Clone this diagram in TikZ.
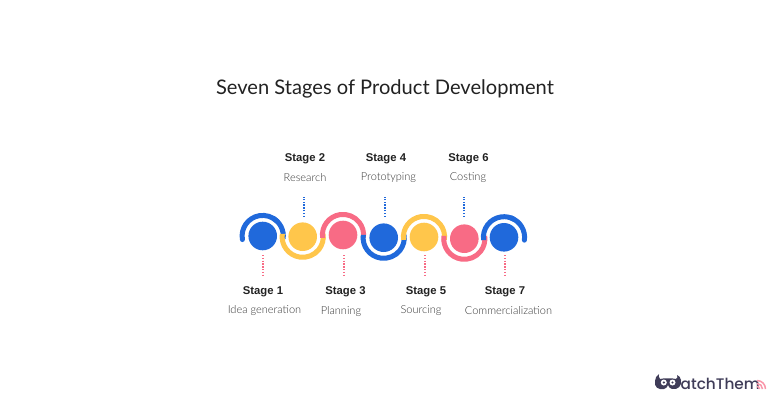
\documentclass[tikz,border=0pt]{standalone}
\usepackage{fontspec}
\setmainfont{Lato}
\newfontfamily\titlef{Lato}
\newfontfamily\boldf[Scale=1]{Liberation Sans Bold}
\newfontfamily\lightf{Lato Light}
\newfontfamily\logof{Poppins Medium}
\definecolor{bl}{HTML}{2069DB}
\definecolor{ye}{HTML}{FFC64B}
\definecolor{pk}{HTML}{F86B85}
\definecolor{ink}{HTML}{222222}
\definecolor{lg}{HTML}{3F3C58}
\tikzset{
  x=1pt,y=1pt,
  dot/.style={circle,minimum size=28.6pt,inner sep=0pt,fill=#1},
  band/.style={draw=#1,line width=5pt,line cap=butt},
  tick/.style={draw=#1,line width=1.7pt,dash pattern=on 1.4pt off 1.4pt},
  head/.style={text=ink,font=\boldf\fontsize{11.3}{13}\selectfont,inner sep=0pt},
  sub/.style={text=ink!90,font=\lightf\fontsize{11}{13}\selectfont,inner sep=0pt},
}
\begin{document}
\begin{tikzpicture}
\useasboundingbox (0,0) rectangle (768,402);
\fill[white] (0,0) rectangle (768,402);
\node[text=ink,font=\titlef\fontsize{20.1}{24}\selectfont,inner sep=0pt] (title) at (385,313.5) {Seven Stages of Product Development};
% circles
\node[dot=bl] (c1) at (262.7,166) {};
\node[dot=ye] (c2) at (302.7,165.3) {};
\node[dot=pk] (c3) at (343,167) {};
\node[dot=bl] (c4) at (383.7,164.3) {};
\node[dot=ye] (c5) at (424,165) {};
\node[dot=pk] (c6) at (464.3,163.3) {};
\node[dot=bl] (c7) at (504,164.7) {};
% arcs
\draw[band=bl,line cap=round] (c1.center) ++(190:20.6) arc[start angle=190,end angle=45,radius=20.6];
\draw[band=bl] (c1.center) ++(60:20.6) arc[start angle=60,end angle=-8,radius=20.6];
\draw[band=ye] (c2.center) ++(172:20.6) arc[start angle=172,end angle=368,radius=20.6];
\draw[band=pk] (c3.center) ++(188:20.6) arc[start angle=188,end angle=-8,radius=20.6];
\draw[band=bl] (c4.center) ++(172:20.6) arc[start angle=172,end angle=368,radius=20.6];
\draw[band=ye] (c5.center) ++(188:20.6) arc[start angle=188,end angle=-8,radius=20.6];
\draw[band=pk] (c6.center) ++(172:20.6) arc[start angle=172,end angle=368,radius=20.6];
\draw[band=bl] (c7.center) ++(188:20.6) arc[start angle=188,end angle=60,radius=20.6];
\draw[band=bl,line cap=round] (c7.center) ++(70:20.6) arc[start angle=70,end angle=-8,radius=20.6];
% labels
\node[head] (s1) at (263,110) {Stage 1};
\node[sub] (t1) at (264.5,91) {Idea generation};
\node[head] (s2) at (305,243) {Stage 2};
\node[sub] (t2) at (305,224) {Research};
\node[head] (s3) at (345.5,110) {Stage 3};
\node[sub] (t3) at (341,90) {Planning};
\node[head] (s4) at (386,243) {Stage 4};
\node[sub] (t4) at (388.5,224) {Prototyping};
\node[head] (s5) at (426,110) {Stage 5};
\node[sub] (t5) at (421,91) {Sourcing};
\node[head] (s6) at (468.5,243) {Stage 6};
\node[sub] (t6) at (468,224) {Costing};
\node[head] (s7) at (505,110) {Stage 7};
\node[sub] (t7) at (508.5,91) {Commercialization};
% dotted connectors
\coordinate (b1) at (263,147); \coordinate (e1) at (263,126);
\coordinate (b3) at (344,147); \coordinate (e3) at (344,126);
\coordinate (b5) at (425,147); \coordinate (e5) at (425,126);
\coordinate (b7) at (505,147); \coordinate (e7) at (505,126);
\coordinate (b2) at (304,185); \coordinate (e2) at (304,205);
\coordinate (b4) at (385,185); \coordinate (e4) at (385,205);
\coordinate (b6) at (464,185); \coordinate (e6) at (464,205);
\foreach \i in {1,3,5,7} \draw[tick=pk] (b\i) -- (e\i);
\foreach \i in {2,4,6} \draw[tick=bl] (b\i) -- (e\i);
% logo
\fill[lg] (655,21) .. controls (654,15) and (658,12) .. (664,13) .. controls (666,13.5) and (667.5,15) .. (668,17) .. controls (668.5,15) and (670,13.5) .. (672,13) .. controls (678,12) and (682,16) .. (681,22) .. controls (680.5,25) and (679,26) .. (677,27) .. controls (678,25) and (677.5,24) .. (676,23) .. controls (672,24) and (664,24) .. (660,23) .. controls (659,24) and (658.5,26) .. (659,28) .. controls (656.5,26) and (655,24) .. (655,21) -- cycle;
\fill[white] (663.8,19.5) circle[radius=3];
\fill[white] (672.5,19.5) circle[radius=3];
\fill[lg] (663.8,19.5) circle[radius=1.2];
\fill[lg] (672.5,19.5) circle[radius=1.2];
\node[anchor=base west,text=lg,font=\logof\fontsize{15.3}{18}\selectfont,inner sep=0pt] (logo) at (680.5,13) {atchThem};
\foreach \r in {2.5,5.5,8.5} \draw[pk!70,line width=1.5pt] (757,13) ++(90:\r) arc[start angle=90,end angle=0,radius=\r];
\end{tikzpicture}
\end{document}
